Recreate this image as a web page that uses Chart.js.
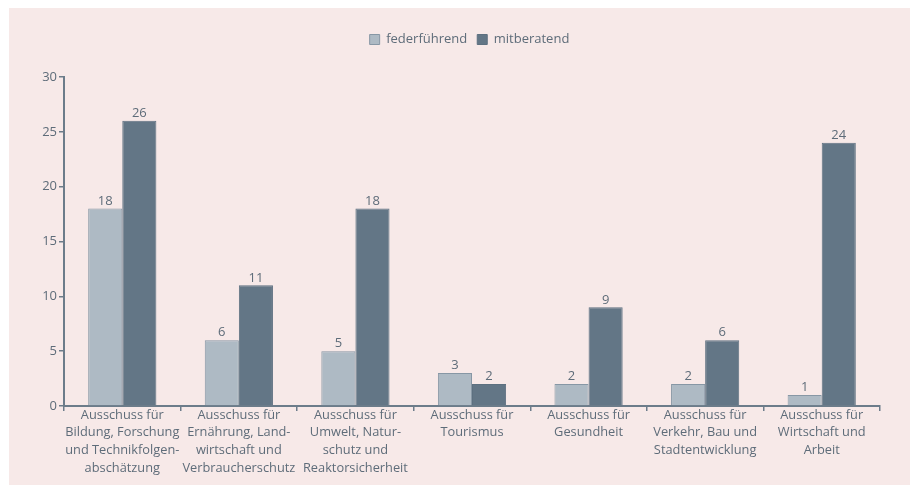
<!DOCTYPE html>
<html>
<head>
<meta charset="utf-8">
<script src="https://cdn.jsdelivr.net/npm/chart.js@4/dist/chart.umd.min.js"></script>
<style>
  body { margin: 0; background: #fff; }
  #wrap { position: absolute; left: 9px; top: 8px; width: 901px; height: 477px; background: #f7e9e8; }
</style>
</head>
<body>
<div id="wrap"><canvas id="myChart" width="901" height="477"></canvas></div>
<script>
const categories = [
    ['Ausschuss für', 'Bildung, Forschung', 'und Technikfolgen-', 'abschätzung'],
    ['Ausschuss für', 'Ernährung, Land-', 'wirtschaft und', 'Verbraucherschutz'],
    ['Ausschuss für', 'Umwelt, Natur-', 'schutz und', 'Reaktorsicherheit'],
    ['Ausschuss für', 'Tourismus'],
    ['Ausschuss für', 'Gesundheit'],
    ['Ausschuss für', 'Verkehr, Bau und', 'Stadtentwicklung'],
    ['Ausschuss für', 'Wirtschaft und', 'Arbeit']
];
const federfuehrend = [18, 6, 5, 3, 2, 2, 1];
const mitberatend = [26, 11, 18, 2, 9, 6, 24];
const yTicks = [0, 5, 10, 15, 20, 25, 30];

const axisColor = '#6c7c8a';
const textColor = '#5e6c79';
const fontFamily = '"Open Sans", "Noto Sans", sans-serif';

// Werte über den Balken
const valueLabels = {
    id: 'valueLabels',
    afterDatasetsDraw(chart) {
        const ctx = chart.ctx;
        ctx.save();
        ctx.font = '13px ' + fontFamily;
        ctx.fillStyle = textColor;
        ctx.textAlign = 'center';
        ctx.textBaseline = 'bottom';
        chart.data.datasets.forEach((ds, i) => {
            chart.getDatasetMeta(i).data.forEach((bar, j) => {
                ctx.fillText(ds.data[j], bar.x, bar.y - 1);
            });
        });
        ctx.restore();
    }
};

// Legende etwas tiefer / weiter rechts wie im Original
const legendSpace = {
    id: 'legendSpace',
    beforeInit(chart) {
        const fit = chart.legend.fit;
        chart.legend.fit = function () {
            fit.bind(chart.legend)();
            this.height += 21;
        };
    },
    afterLayout(chart) {
        chart.legend.left += 25;
        chart.legend.right += 25;
    }
};

const ctx = document.getElementById('myChart').getContext('2d');
new Chart(ctx, {
    type: 'bar',
    data: {
        labels: categories,
        datasets: [
            {
                label: 'federführend',
                data: federfuehrend,
                backgroundColor: '#aebac4',
                borderColor: '#8797a5',
                borderWidth: 1,
                categoryPercentage: 0.585,
                barPercentage: 1
            },
            {
                label: 'mitberatend',
                data: mitberatend,
                backgroundColor: '#637686',
                borderColor: '#5d7080',
                borderWidth: 1,
                categoryPercentage: 0.585,
                barPercentage: 1
            }
        ]
    },
    options: {
        responsive: false,
        animation: false,
        layout: { padding: { top: 15, right: 30, left: 0, bottom: 0 } },
        scales: {
            x: {
                afterFit: axis => { axis.height = 79; },
                grid: { drawOnChartArea: false, drawTicks: true, tickLength: 5, color: axisColor, lineWidth: 1.5, offset: true },
                border: { color: axisColor, width: 2 },
                ticks: { color: textColor, font: { family: fontFamily, size: 12.8, lineHeight: 1.39 }, padding: -5, maxRotation: 0, autoSkip: false }
            },
            y: {
                min: 0,
                max: 30,
                afterBuildTicks: axis => { axis.ticks = yTicks.map(v => ({ value: v })); },
                afterFit: axis => { axis.width = 55; },
                grid: { drawOnChartArea: false, drawTicks: true, tickLength: 5, color: axisColor, lineWidth: 1.5 },
                border: { color: axisColor, width: 2 },
                ticks: { color: textColor, font: { family: fontFamily, size: 13 }, padding: 2 }
            }
        },
        plugins: {
            legend: {
                display: true,
                labels: { color: textColor, font: { family: fontFamily, size: 13 }, boxWidth: 10, boxHeight: 10, padding: 10 }
            },
            tooltip: { enabled: false }
        }
    },
    plugins: [valueLabels, legendSpace]
});
</script>
</body>
</html>
